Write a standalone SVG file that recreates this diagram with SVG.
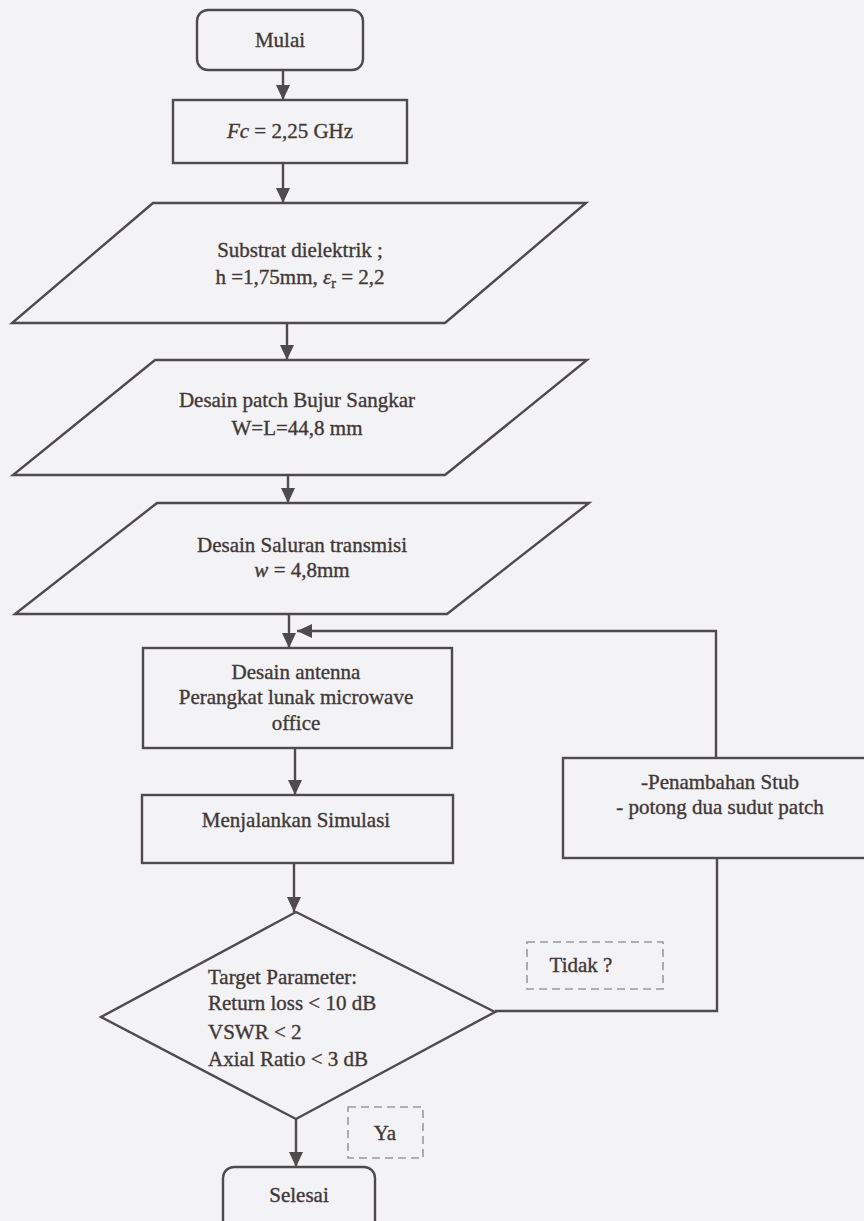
<svg xmlns="http://www.w3.org/2000/svg" width="864" height="1221" viewBox="0 0 864 1221" font-family="'Liberation Serif', 'DejaVu Serif', serif">
<defs>
<style>
.shape{fill:none;stroke:#4f4a4c;stroke-width:2.4}
.dash{fill:none;stroke:#9a9a9c;stroke-width:1.6;stroke-dasharray:8 5}
.conn{fill:none;stroke:#4f4a4c;stroke-width:2.4}
.t{font-family:'Liberation Serif','DejaVu Serif',serif;font-size:21px;fill:#3f3838;stroke:#3f3838;stroke-width:0.35}
.c{text-anchor:middle}
</style>
<marker id="arr" markerUnits="userSpaceOnUse" markerWidth="16" markerHeight="16" viewBox="0 0 16 16" refX="15" refY="8" orient="auto">
<path d="M0,1 L15,8 L0,15 Z" fill="#4f4a4c"/>
</marker>
</defs>
<rect width="864" height="1221" fill="#f3f2f4"/>
<g id="connectors">
<path class="conn" d="M283,70 V100" marker-end="url(#arr)"/>
<path class="conn" d="M283,163 V203" marker-end="url(#arr)"/>
<path class="conn" d="M287,323 V360" marker-end="url(#arr)"/>
<path class="conn" d="M288,475 V503" marker-end="url(#arr)"/>
<path class="conn" d="M289,614 V648" marker-end="url(#arr)"/>
<path class="conn" d="M295,748 V795" marker-end="url(#arr)"/>
<path class="conn" d="M294,863 V912" marker-end="url(#arr)"/>
<path class="conn" d="M296,1119 V1167" marker-end="url(#arr)"/>
<path class="conn" d="M495,1011 H717 V858"/>
<path class="conn" d="M716,758 V631 H297" marker-end="url(#arr)"/>
</g>
<g id="mulai">
<rect class="shape" x="197" y="10" width="166" height="60" rx="11"/>
<text class="t c" x="280" y="47" font-family="'Liberation Serif', serif">Mulai</text>
</g>
<g id="fc">
<rect class="shape" x="173" y="100" width="234" height="63"/>
<text class="t c" x="290" y="138" font-family="'Liberation Serif', serif"><tspan font-style="italic">Fc</tspan> = 2,25 GHz</text>
</g>
<g id="substrat">
<polygon class="shape" points="153,203 586,203 445,323 12,323"/>
<text class="t c" x="300" y="257" font-family="'Liberation Serif', serif">Substrat dielektrik ;</text>
<text class="t c" x="300" y="284" font-family="'Liberation Serif', serif">h =1,75mm, <tspan font-style="italic">ε</tspan><tspan font-size="14" dy="4">r</tspan><tspan dy="-4"> = 2,2</tspan></text>
</g>
<g id="patch">
<polygon class="shape" points="155,360 587,360 445,475 13,475"/>
<text class="t c" x="297" y="407" font-family="'Liberation Serif', serif">Desain patch Bujur Sangkar</text>
<text class="t c" x="297" y="435" font-family="'Liberation Serif', serif">W=L=44,8 mm</text>
</g>
<g id="saluran">
<polygon class="shape" points="157,503 589,503 447,614 15,614"/>
<text class="t c" x="302" y="552" font-family="'Liberation Serif', serif">Desain Saluran transmisi</text>
<text class="t c" x="302" y="577" font-family="'Liberation Serif', serif"><tspan font-style="italic">w</tspan> = 4,8mm</text>
</g>
<g id="desain-antenna">
<rect class="shape" x="143" y="648" width="309" height="100"/>
<text class="t c" x="296" y="679" font-family="'Liberation Serif', serif">Desain antenna</text>
<text class="t c" x="296" y="704" font-family="'Liberation Serif', serif">Perangkat lunak microwave</text>
<text class="t c" x="296" y="730" font-family="'Liberation Serif', serif">office</text>
</g>
<g id="simulasi">
<rect class="shape" x="142" y="795" width="311" height="68"/>
<text class="t c" x="296" y="827" font-family="'Liberation Serif', serif">Menjalankan Simulasi</text>
</g>
<g id="stub">
<rect class="shape" x="563" y="758" width="310" height="100"/>
<text class="t c" x="720" y="789" font-family="'Liberation Serif', serif">-Penambahan Stub</text>
<text class="t c" x="720" y="814" font-family="'Liberation Serif', serif">- potong dua sudut patch</text>
</g>
<g id="target">
<polygon class="shape" points="296,912 495,1012 296,1119 101,1017"/>
<text class="t" x="208" y="984" font-family="'Liberation Serif', serif">Target Parameter:</text>
<text class="t" x="208" y="1010" font-family="'Liberation Serif', serif">Return loss &lt; 10 dB</text>
<text class="t" x="208" y="1039" font-family="'Liberation Serif', serif">VSWR &lt; 2</text>
<text class="t" x="208" y="1066" font-family="'Liberation Serif', serif">Axial Ratio &lt; 3 dB</text>
</g>
<g id="tidak">
<rect class="dash" x="527" y="942" width="136" height="47"/>
<text class="t c" x="581" y="972" font-family="'Liberation Serif', serif">Tidak ?</text>
</g>
<g id="ya">
<rect class="dash" x="348" y="1107" width="75" height="51"/>
<text class="t c" x="385" y="1140" font-family="'Liberation Serif', serif">Ya</text>
</g>
<g id="selesai">
<rect class="shape" x="223" y="1167" width="152" height="66" rx="11"/>
<text class="t c" x="299" y="1202" font-family="'Liberation Serif', serif">Selesai</text>
</g>
</svg>
